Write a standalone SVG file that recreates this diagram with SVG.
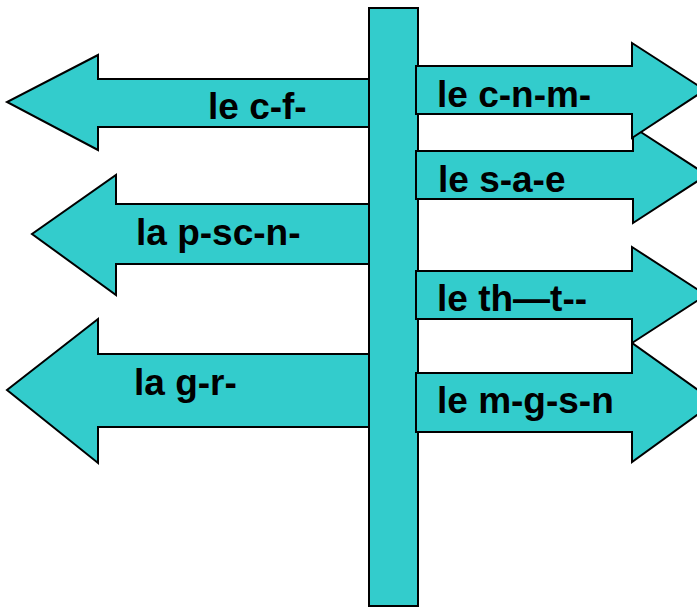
<svg xmlns="http://www.w3.org/2000/svg" width="697" height="607" viewBox="0 0 697 607">
<style>
.a{fill:#33CCCC;stroke:#000;stroke-width:2;stroke-linejoin:miter}
.t{font-family:"Liberation Sans",Arial,sans-serif;font-weight:bold;font-size:37px;fill:#000}
</style>
<rect width="697" height="607" fill="#fff"/>
<g id="left-cafe">
<polygon class="a" points="369,79 98,79 98,55 7,102 98,150 98,127 369,127"/>
<text class="t" x="208" y="119">le c-f-</text>
</g>
<g id="left-piscine">
<polygon class="a" points="369,204 116,204 116,175 32,234 116,295 116,264 369,264"/>
<text class="t" x="136" y="245">la p-sc-n-</text>
</g>
<g id="left-gare">
<polygon class="a" points="369,354 98,354 98,319 7,390 98,463 98,427 369,427"/>
<text class="t" x="134" y="395">la g-r-</text>
</g>
<g id="pole">
<rect class="a" x="369" y="8" width="49" height="598"/>
</g>
<g id="right-stade">
<polygon class="a" points="416,151 633,151 633,127 707,175 633,223 633,199 416,199"/>
<text class="t" x="438" y="192">le s-a-e</text>
</g>
<g id="right-cinema">
<polygon class="a" points="416,66 632,66 632,43 705,90 632,138 632,114 416,114"/>
<text class="t" x="437" y="107">le c-n-m-</text>
</g>
<g id="right-magasin">
<polygon class="a" points="416,373 632,373 632,343 715,402 632,462 632,432 416,432"/>
<text class="t" x="437" y="413">le m-g-s-n</text>
</g>
<g id="right-theatre">
<polygon class="a" points="416,271 632,271 632,247 706,295 632,343 632,319 416,319"/>
<text class="t" x="437" y="311">le th—t--</text>
</g>
</svg>
